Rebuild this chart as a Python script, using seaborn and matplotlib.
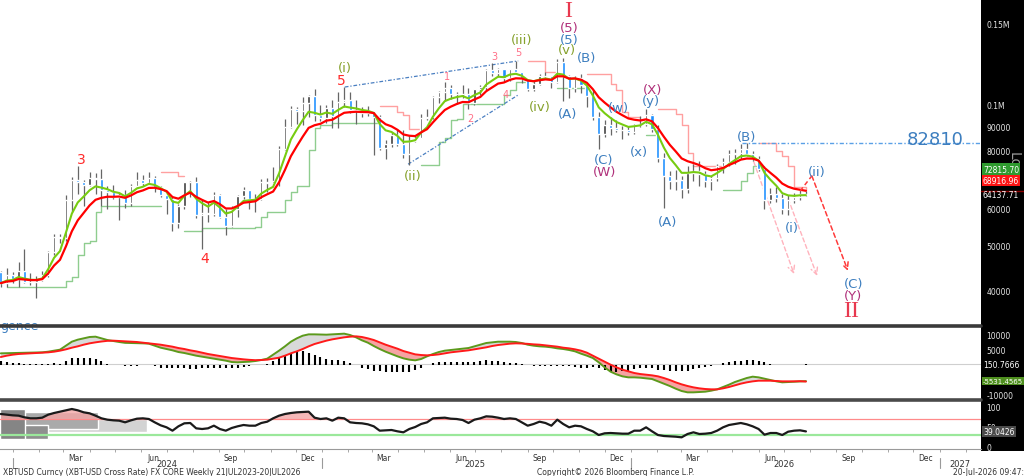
import numpy as np
import pandas as pd
import seaborn as sns
import matplotlib.pyplot as plt
import matplotlib.transforms as mtrans
from matplotlib.lines import Line2D
from matplotlib.patches import Rectangle
from matplotlib.ticker import NullLocator

# Weekly XBTUSD candles in thousands of USD, first week starts 11 Dec 2023
first_open = 43.8
close_k = [41.4, 43.0, 42.3, 43.9, 41.7, 41.6, 42.0, 43.0, 48.3, 52.1,
           51.7, 62.4, 68.9, 68.4, 67.2, 69.6, 69.4, 65.6, 64.9, 63.4,
           63.9, 61.5, 67.0, 69.0, 67.8, 69.6, 66.6, 64.2, 62.7, 55.8,
           60.8, 68.2, 68.3, 58.1, 58.7, 58.4, 64.1, 57.3, 54.8, 59.9,
           63.6, 65.6, 62.8, 62.9, 68.4, 68.0, 68.7, 80.4, 89.8, 98.0,
           97.3, 101.2, 104.5, 95.2, 93.7, 98.3, 94.5, 101.3, 102.6, 97.7,
           97.5, 96.1, 96.3, 94.2, 80.7, 82.6, 86.1, 82.4, 78.4, 83.7,
           85.1, 93.7, 94.3, 104.0, 106.4, 109.0, 105.6, 105.7, 105.6, 100.9,
           108.4, 109.2, 119.1, 117.3, 119.4, 114.2, 119.3, 117.5, 113.5, 108.2,
           111.1, 115.3, 115.3, 112.1, 123.5, 115.2, 108.7, 114.5, 110.5, 104.7,
           94.3, 86.8, 90.4, 89.3, 88.2, 88.5, 87.6, 90.6, 91.2, 95.3,
           88.6, 77.0, 70.5, 68.8, 68.9, 65.9, 71.5, 72.3, 71.2, 68.6,
           69.5, 73.8, 75.5, 78.4, 79.0, 80.6, 78.4, 76.5, 73.0, 62.5,
           64.3, 63.0, 59.8, 62.5, 63.5, 64.3, 64.1]
high_k = [43.9, 44.7, 43.8, 45.9, 49.0, 43.6, 42.8, 43.9, 48.6, 52.8,
          52.9, 64.0, 70.0, 73.8, 68.9, 71.6, 71.3, 72.7, 66.9, 67.2,
          64.7, 65.5, 67.7, 71.9, 70.6, 71.9, 70.2, 66.9, 64.5, 63.8,
          61.4, 68.4, 68.6, 70.0, 62.7, 61.8, 65.0, 64.5, 59.8, 60.7,
          64.1, 66.5, 65.6, 64.5, 69.4, 69.5, 73.6, 81.5, 93.5, 99.6,
          98.9, 104.0, 105.3, 108.3, 99.9, 99.9, 102.7, 106.4, 109.4, 106.5,
          102.5, 98.8, 99.5, 96.5, 95.0, 84.2, 87.5, 88.8, 88.5, 86.1,
          86.4, 95.8, 97.9, 104.3, 107.1, 111.9, 110.4, 106.8, 110.5, 108.9,
          108.5, 110.6, 119.5, 123.2, 120.2, 119.8, 119.4, 124.5, 117.6, 113.6,
          113.4, 116.7, 118.0, 115.3, 125.6, 126.2, 116.0, 115.5, 116.4, 110.9,
          107.5, 96.6, 93.0, 94.1, 92.7, 90.0, 90.0, 91.0, 94.8, 97.9,
          95.8, 90.5, 79.0, 72.2, 72.5, 70.5, 74.0, 74.5, 75.9, 72.0,
          70.5, 74.8, 76.8, 80.0, 80.4, 82.3, 82.8, 79.5, 77.5, 74.0,
          66.3, 66.5, 64.5, 64.0, 64.7, 65.5, 65.2]
low_k = [40.6, 40.6, 41.5, 40.7, 41.5, 41.0, 38.5, 41.8, 42.6, 47.7,
         50.6, 50.9, 59.0, 64.5, 60.8, 66.9, 64.5, 60.7, 59.7, 62.8,
         56.6, 60.2, 60.7, 66.6, 66.8, 67.6, 65.1, 63.4, 58.4, 53.5,
         54.3, 59.7, 63.5, 57.2, 49.1, 56.1, 57.8, 57.2, 52.6, 54.6,
         57.5, 62.7, 59.8, 58.9, 62.4, 65.1, 67.7, 66.8, 80.2, 89.4,
         90.8, 90.5, 94.3, 92.2, 92.6, 91.5, 89.3, 89.3, 99.0, 96.2,
         91.2, 94.1, 94.9, 78.2, 80.0, 76.6, 81.2, 81.6, 77.1, 74.4,
         83.1, 85.1, 92.8, 93.4, 100.9, 102.1, 103.1, 100.4, 103.4, 98.2,
         100.0, 105.1, 107.5, 115.7, 114.7, 112.0, 112.7, 116.8, 111.7, 107.3,
         107.3, 110.6, 114.8, 108.6, 111.6, 102.0, 103.5, 106.8, 106.3, 98.9,
         93.0, 80.6, 85.3, 86.0, 87.6, 84.4, 86.4, 86.8, 89.5, 90.0,
         87.3, 75.5, 60.2, 65.9, 65.5, 63.0, 64.8, 68.5, 67.0, 66.5,
         65.6, 68.8, 71.5, 73.8, 74.5, 76.5, 77.5, 75.8, 72.0, 59.7,
         61.5, 62.0, 58.3, 58.0, 61.5, 62.5, 63.8]

# MACD panel
macd_line = [3720, 3770, 3830, 3880, 3940, 3940, 4000, 4050, 4270, 4610,
             4940, 6270, 7600, 8270, 8710, 9160, 9270, 8710, 8160, 7820,
             7490, 7210, 7160, 7100, 7050, 6940, 6270, 5600, 5160, 4720,
             4160, 3830, 3380, 2940, 2610, 2270, 1940, 1610, 1280, 830,
             720, 830, 940, 1160, 1500, 1940, 3270, 4610, 6050, 7600,
             8710, 9600, 10040, 10040, 9990, 9930, 10040, 10160, 10270, 9820,
             9050, 8050, 7270, 6160, 5160, 4270, 3500, 2720, 2050, 1610,
             1390, 1830, 2720, 3500, 4160, 4610, 4830, 5050, 5270, 5490,
             6050, 6600, 7160, 7380, 7600, 7600, 7600, 7490, 7160, 6600,
             6270, 6050, 5940, 5720, 5380, 5160, 4830, 4380, 3610, 2940,
             2160, 720, -950, -2390, -3280, -3940, -4280, -4280, -4390, -4610,
             -4830, -5610, -6380, -7160, -8050, -8830, -9270, -9270, -9160, -9050,
             -8720, -8270, -7490, -6720, -5830, -5160, -4500, -4050, -4280, -4720,
             -5160, -5610, -5940, -5830, -5720, -5610, -5531]
macd_signal = [2500, 2940, 3270, 3500, 3610, 3720, 3830, 3940, 4050, 4270,
               4610, 5050, 5600, 6050, 6600, 7050, 7380, 7660, 7880, 7940,
               7820, 7710, 7600, 7490, 7270, 7050, 6830, 6600, 6270, 5940,
               5490, 5160, 4720, 4380, 3940, 3500, 3160, 2830, 2500, 2160,
               1940, 1720, 1550, 1440, 1500, 1610, 1940, 2270, 2940, 3720,
               4380, 5160, 6050, 6830, 7380, 7940, 8380, 8710, 9050, 9270,
               9380, 9160, 8710, 8160, 7380, 6600, 5940, 5270, 4490, 3940,
               3380, 3160, 3050, 3160, 3380, 3720, 4050, 4270, 4490, 4720,
               5050, 5380, 5720, 6160, 6490, 6710, 6940, 7050, 6990, 6880,
               6710, 6600, 6380, 6160, 5940, 5600, 5380, 5050, 4610, 3940,
               2940, 1940, 940, -60, -950, -1720, -2280, -2830, -3170, -3390,
               -3610, -3940, -4500, -5160, -5940, -6610, -7160, -7610, -7940, -8160,
               -8270, -8270, -7940, -7490, -6940, -6380, -5940, -5610, -5390, -5390,
               -5390, -5500, -5610, -5610, -5610, -5550, -5682]

# RSI panel
rsi_vals = [82.5, 80.8, 79.2, 78.3, 74.2, 71.7, 71.7, 73.3, 80.8, 85.0,
            88.3, 91.7, 95.0, 91.7, 86.7, 84.2, 78.3, 71.7, 68.3, 66.7,
            65.8, 61.7, 66.7, 70.8, 71.7, 70.0, 61.7, 54.2, 49.2, 40.8,
            51.7, 59.2, 60.0, 46.7, 45.0, 46.7, 53.3, 45.0, 40.8, 47.5,
            51.7, 55.0, 53.3, 53.3, 60.0, 63.3, 71.7, 78.3, 82.5, 85.0,
            86.7, 87.5, 88.3, 73.3, 70.0, 71.7, 65.8, 73.3, 71.7, 61.7,
            60.0, 59.2, 56.7, 51.7, 40.8, 41.7, 42.5, 39.2, 36.7, 45.0,
            50.0, 57.5, 61.7, 71.7, 72.5, 73.3, 70.8, 70.0, 67.5, 60.0,
            68.3, 71.7, 76.7, 75.8, 73.3, 70.0, 71.7, 70.0, 61.7, 53.3,
            57.5, 63.3, 60.0, 53.3, 68.3, 57.5, 49.2, 53.3, 51.7, 45.0,
            39.2, 30.0, 34.2, 35.0, 34.2, 33.3, 33.3, 40.8, 40.8, 49.2,
            39.2, 30.0, 27.5, 26.7, 25.8, 24.2, 32.5, 36.7, 32.5, 33.3,
            35.0, 40.8, 49.2, 55.0, 57.5, 60.0, 56.7, 51.7, 45.0, 30.8,
            35.0, 35.0, 30.0, 38.3, 40.8, 41.7, 39.0]

# grey price-level profile on the left of the RSI panel
profile_top = [37.5, 71, 87, 54, 96]
profile_bottom = [35, 37, 45, 21, 21]
profile_weeks = [33.3, 24.8, 16.6, 8.1, 4.2]
profile_shade = ['#e3e3e3', '#d3d3d3', '#aaaaaa', '#8f8f8f', '#858585']

# Elliott wave labels: text, week, price (k), degree
wave_text = ['3', '4', '5', '(i)', '(ii)', '1', '2', '3', '4', '5', '(iii)', '(iv)', '(v)',
             '(5)', '(5)', 'I', '(B)', '(A)', '(C)', '(W)', '(w)', '(x)', '(y)', '(X)',
             '(A)', '(B)', '(ii)', '(i)', '(C)', '(Y)', 'II']
wave_week = [13.55, 34.5, 57.6, 58.1, 69.6, 75.4, 79.4, 83.3, 85.3, 87.4, 88.0, 91.1, 95.6,
             96.0, 96.0, 95.8, 99.0, 95.8, 101.9, 101.9, 104.3, 107.8, 109.8, 110.1,
             112.7, 126.0, 137.9, 133.6, 144.0, 144.0, 143.6]
wave_price = [76.5, 46.9, 113.2, 120.5, 70.4, 115.4, 93.8, 127.5, 105.6, 130.0, 138.0, 99.5, 131.3,
              138.6, 147.1, 159.3, 126.2, 96.1, 76.5, 72.1, 99.0, 79.6, 102.0, 108.2,
              56.3, 85.4, 72.1, 54.4, 41.4, 39.0, 36.2]
wave_degree = ['red', 'red', 'red', 'olive', 'olive', 'pink', 'pink', 'pink', 'pink', 'pink',
               'olive', 'olive', 'olive', 'blue', 'purple', 'roman', 'blue', 'blue', 'blue',
               'purple', 'blue', 'blue', 'blue', 'purple', 'blue', 'blue', 'blue', 'blue',
               'blue', 'purple', 'roman']

# drawn lines (week, price k)
level_price = 82.81
level_start = 125.2
wedge_upper = ([58.1, 87.4], [109.3, 124.4])
wedge_lower = ([68.8, 87.4], [74.6, 105.1])
path_weeks = [135.0, 137.0, 143.1]
path_prices = [65.3, 70.4, 44.0]
alt_paths = [([127.2, 134.0], [75.4, 43.3]), ([133.0, 137.9], [62.8, 42.9])]

sns.set_theme(style='white')
plt.rcParams['font.family'] = ['DejaVu Sans']

W, H = 1024, 477
fig = plt.figure(figsize=(W / 100, H / 100), dpi=100)


def box(top_px, bottom_px):
    return [0, 1 - bottom_px / H, 981 / W, (bottom_px - top_px) / H]


ax = fig.add_axes(box(0, 326))
ax_m = fig.add_axes(box(328, 399))
ax_r = fig.add_axes(box(402, 450))
x_lo, x_hi = -0.135, 165.57

df = pd.DataFrame({'close': close_k, 'high': high_k, 'low': low_k})
df['open'] = [first_open] + close_k[:-1]
n = len(df)
x = np.arange(n)

# ---- price panel
ax.set_yscale('log')
up = (df.close >= df.open).values
ax.vlines(x, df.low, df.high, color='#666666', lw=0.9, zorder=3)
ax.bar(x[up], (df.close - df.open)[up], bottom=df.open[up], width=0.4, color='#3d3d3d', zorder=3.2)
ax.bar(x[~up], (df.open - df.close)[~up], bottom=df.close[~up], width=0.52, color='#1e90ff', zorder=3.2)

# trailing stops
look = 4
lo_prev = df.low.rolling(look).min().shift(1)
hi_prev = df.high.rolling(look).max().shift(1)
lo_now = df.low.rolling(look, min_periods=1).min()
hi_now = df.high.rolling(look, min_periods=1).max()
stop_up = np.full(n, np.nan)
stop_dn = np.full(n, np.nan)
is_long, stop = True, df.low[0]
for k in range(1, n):
    if is_long:
        if not np.isnan(lo_prev[k]):
            stop = max(stop, lo_prev[k])
        if df.close[k] < stop:
            is_long, stop = False, hi_now[k]
    else:
        if not np.isnan(hi_prev[k]):
            stop = min(stop, hi_prev[k])
        if df.close[k] > stop:
            is_long, stop = True, lo_now[k]
    (stop_up if is_long else stop_dn)[k] = stop
ax.plot(x, stop_up, drawstyle='steps-post', color='#8fcd8f', lw=1.0, zorder=2)
ax.plot(x, stop_dn, drawstyle='steps-post', color='#ffa0a0', lw=1.0, zorder=2)

ema_fast = df.close.ewm(span=5, adjust=False).mean()
ema_slow = df.close.ewm(span=9, adjust=False).mean()
sns.lineplot(x=x, y=ema_fast.values, ax=ax, color='#77cc11', linewidth=1.5, zorder=4)
sns.lineplot(x=x, y=ema_slow.values, ax=ax, color='#ff0000', linewidth=1.6, zorder=4.1)

dashdot = (0, (3, 1.5, 1, 1.5))
ax.hlines(level_price, level_start, x_hi, colors='#5aa0e6', linestyles=dashdot, lw=1.0, zorder=2)
for seg in (wedge_upper, wedge_lower):
    ax.plot(seg[0], seg[1], color='#4a7fc1', lw=0.9, ls=dashdot, zorder=2)
ax.plot(path_weeks[:2], path_prices[:2], color='#ff3b3b', lw=1.1, ls=(0, (3, 2)), zorder=5)
ax.annotate('', xy=(path_weeks[2], path_prices[2]), xytext=(path_weeks[1], path_prices[1]),
            arrowprops=dict(arrowstyle='->', color='#ff3b3b', lw=1.1, linestyle=(0, (3, 2)),
                            shrinkA=0, shrinkB=0), zorder=5)
for wk, pr in alt_paths:
    ax.annotate('', xy=(wk[1], pr[1]), xytext=(wk[0], pr[0]),
                arrowprops=dict(arrowstyle='->', color='#ffb3bd', lw=1.0, linestyle=(0, (3, 2)),
                                shrinkA=0, shrinkB=0), zorder=2)

styles = {
    'red': dict(color='#ff2b2b', fontsize=10),
    'pink': dict(color='#ff7088', fontsize=7),
    'olive': dict(color='#86a12c', fontsize=9.5),
    'blue': dict(color='#3d7ebf', fontsize=9.5),
    'purple': dict(color='#b0307a', fontsize=9.5),
    'roman': dict(color='#e8384f', fontsize=17, family='Liberation Serif'),
}
for t, wk, pr, dg in zip(wave_text, wave_week, wave_price, wave_degree):
    ax.text(wk, pr, t, ha='center', va='center', zorder=6, **styles[dg])
ax.text(157.8, 84.5, '82810', color='#3d7ebf', fontsize=13, ha='center', va='center', zorder=6)

ax.set_ylim(33.65, 169.0)


def right_axis(a, ticks, labels):
    a.yaxis.tick_right()
    a.set_yticks(ticks, labels)
    a.yaxis.set_minor_locator(NullLocator())
    a.tick_params(axis='y', which='both', length=0, pad=4, labelsize=5.5,
                  labelcolor='#e6e6e6', right=True, left=False)
    for s in a.spines.values():
        s.set_visible(False)
    a.set_xlim(x_lo, x_hi)


def side_label(a, val, txt, fc=None, size=5.5):
    tr = mtrans.blended_transform_factory(a.transAxes, a.transData)
    bb = dict(boxstyle='square,pad=0.15', fc=fc, ec='none') if fc else None
    a.text(1.002, val, txt, transform=tr, fontsize=size, color='white', va='center', ha='left',
           bbox=bb, clip_on=False, zorder=10)


right_axis(ax, [40, 50, 60, 80, 90, 100, 150],
           ['40000', '50000', '60000', '80000', '90000', '0.1M', '0.15M'])
ax.set_xticks([])
# vertical axis caption behind the value boxes
ax.text(1.033, 0.51, 'Lo', transform=ax.transAxes, rotation=270, color='#9a9a9a', fontsize=10,
        ha='center', va='center', clip_on=False, zorder=8)
side_label(ax, 72.8157, '72815.70', '#2f9a2f')
side_label(ax, 68.91696, '68916.96', '#ff1414')
side_label(ax, 64.13771, '64137.71')
tr_main = mtrans.blended_transform_factory(ax.transAxes, ax.transData)
ax.plot([1.0, 1.045], [ema_slow.values[-1]] * 2, transform=tr_main, color='#8b0000', lw=1,
        clip_on=False)

# ---- MACD panel
macd = np.array(macd_line, dtype=float)
sig = np.array(macd_signal, dtype=float)
hist = macd - sig
ax_m.axhline(150.7666, color='#cfcfcf', lw=0.8, zorder=0)
ax_m.fill_between(x, macd, sig, where=macd >= sig, interpolate=True, color='#d9d9d9', lw=0, zorder=1)
ax_m.fill_between(x, macd, sig, where=macd < sig, interpolate=True, color='#f6a3a3', lw=0, zorder=1)
ax_m.vlines(x, 0, hist, color='black', lw=1.5, zorder=2)
sns.lineplot(x=x, y=macd, ax=ax_m, color='#5c9a1c', linewidth=1.4, zorder=3)
sns.lineplot(x=x, y=sig, ax=ax_m, color='#ff1a1a', linewidth=1.4, zorder=3.1)
ax_m.set_ylim(-11155, 12490)
right_axis(ax_m, [10000, 5000, -10000], ['10000', '5000', '-10000'])
ax_m.set_xticks([])
side_label(ax_m, 150.7666, '150.7666')
side_label(ax_m, -5531.4565, '-5531.4565', '#4f8f1f', size=5.0)
cut = ax_m.text(0.0, 0.972, 'gence', transform=ax_m.transAxes, color='#3d7ebf', fontsize=9,
                va='baseline', ha='left')
cut.set_clip_path(ax_m.patch)

# ---- RSI panel
rsi = np.array(rsi_vals)
for top, bot, ln, sh in zip(profile_top, profile_bottom, profile_weeks, profile_shade):
    ax_r.barh((top + bot) / 2, ln, height=top - bot, left=x_lo, color=sh, zorder=0.5)
ax_r.axhline(70, color='#ff8a8a', lw=0.9, zorder=1)
ax_r.axhline(30, color='#9be89b', lw=1.6, zorder=1)
ax_r.fill_between(x, rsi, 70, where=rsi > 70, interpolate=True, color='#f3a6a6', alpha=0.8, lw=0, zorder=1.5)
ax_r.fill_between(x, rsi, 30, where=rsi < 30, interpolate=True, color='#bff0bf', lw=0, zorder=1.5)
sns.lineplot(x=x, y=rsi, ax=ax_r, color='#1a1a1a', linewidth=1.6, zorder=3)
ax_r.set_ylim(-5, 115)
right_axis(ax_r, [100, 50, 0], ['100', '50', '0'])
side_label(ax_r, 39.0426, '39.0426', '#4a4a4a')

# ---- time axis
origin = pd.Timestamp('2023-12-18')


def wpos(ts):
    return (pd.Timestamp(ts) - origin).days / 7.0


month_starts = [wpos(d) for d in pd.date_range('2024-01-01', '2027-02-01', freq='MS')]
mid_dates = [pd.Timestamp(f'{y}-{m:02d}-15') for y in (2024, 2025, 2026) for m in (3, 6, 9, 12)]
ax_r.set_xticks([wpos(d) for d in mid_dates], [d.strftime('%b') for d in mid_dates])
ax_r.set_xticks(month_starts, minor=True)
ax_r.tick_params(axis='x', which='major', length=0, pad=3, labelsize=5.5, labelcolor='#333333', bottom=True)
ax_r.tick_params(axis='x', which='minor', length=2.5, width=0.6, color='#999999', bottom=True, direction='out')
ax_r.spines['bottom'].set_visible(True)
ax_r.spines['bottom'].set_color('#9a9a9a')
ax_r.spines['bottom'].set_linewidth(0.8)
ax_r.set_xlim(x_lo, x_hi)

tr_year = mtrans.blended_transform_factory(ax_r.transData, fig.transFigure)
year_names = ['2024', '2025', '2026', '2027']
year_label_pos = [wpos('2024-07-01'), wpos('2025-07-01'), wpos('2026-07-01'), wpos('2027-01-01') + 3.4]
for yn, yp in zip(year_names, year_label_pos):
    fig.text(yp, 1 - 465 / H, yn, transform=tr_year, fontsize=6, color='#333333', ha='center', va='center')
for ys in ['2024-01-01', '2025-01-01', '2026-01-01', '2027-01-01']:
    fig.add_artist(Line2D([wpos(ys)] * 2, [1 - 459 / H, 1 - 469 / H], transform=tr_year,
                          color='#9a9a9a', lw=0.8))

# ---- frame pieces
fig.add_artist(Rectangle((981 / W, 1 - 452 / H), 43 / W, 452 / H, transform=fig.transFigure,
                         facecolor='black', edgecolor='none', zorder=-1))
for ypx, lw, col in [(326.5, 2.6, '#3a3a3a'), (400.5, 2.6, '#4a4a4a')]:
    fig.add_artist(Line2D([0, 981 / W], [1 - ypx / H] * 2, transform=fig.transFigure,
                          color=col, lw=lw, zorder=5))

fy = 1 - 473 / H
fig.text(3 / W, fy, 'XBTUSD Curncy (XBT-USD Cross Rate) FX CORE Weekly 21JUL2023-20JUL2026',
         fontsize=5.5, color='#333333', ha='left', va='center')
fig.text(537 / W, fy, 'Copyright\u00a9 2026 Bloomberg Finance L.P.', fontsize=5.5, color='#333333',
         ha='left', va='center')
fig.text(953 / W, fy, '20-Jul-2026 09:47:48', fontsize=5.5, color='#333333', ha='left', va='center')

fig.savefig('out.png', dpi=100)
